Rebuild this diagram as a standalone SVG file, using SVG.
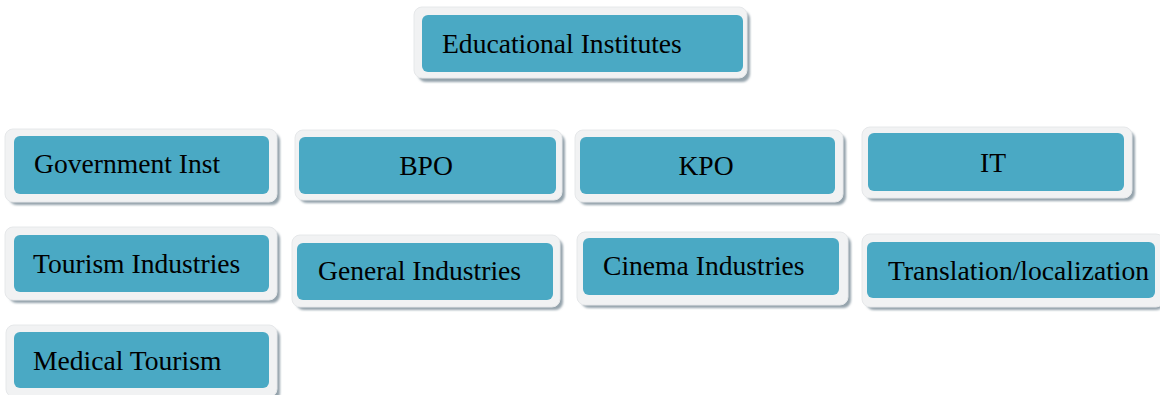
<svg xmlns="http://www.w3.org/2000/svg" width="1160" height="395" viewBox="0 0 1160 395">
<defs>
<filter id="blur" x="-5%" y="-10%" width="110%" height="130%"><feGaussianBlur stdDeviation="1"/></filter>
</defs>
<style>
.shadow{fill:#94a3ac;filter:url(#blur)}
.frame{fill:#f1f2f3;stroke:#e6e8ea;stroke-width:1}
.inner{fill:#4aa9c4}
.lbl{font-family:"Liberation Serif","Times New Roman",serif;font-size:27.6px;fill:#000}
</style>
<rect width="1160" height="395" fill="#ffffff"/>
<g id="connectors"></g>
<g id="n-edu">
<rect class="shadow" x="418" y="11" width="332" height="71" rx="8"/>
<rect class="frame" x="414" y="7" width="333" height="71" rx="8"/>
<rect class="inner" x="422" y="15" width="321" height="57" rx="6"/>
<text class="lbl" x="442" y="53">Educational Institutes</text>
</g>
<g id="n-gov">
<rect class="shadow" x="9" y="133" width="271" height="72" rx="8"/>
<rect class="frame" x="5" y="129" width="272" height="73" rx="8"/>
<rect class="inner" x="14" y="136" width="255" height="58" rx="6"/>
<text class="lbl" x="34" y="173">Government Inst</text>
</g>
<g id="n-bpo">
<rect class="shadow" x="299" y="134" width="266" height="69" rx="8"/>
<rect class="frame" x="295" y="130" width="267" height="70" rx="8"/>
<rect class="inner" x="299" y="137" width="257" height="57" rx="6"/>
<text class="lbl" x="426" y="175" text-anchor="middle">BPO</text>
</g>
<g id="n-kpo">
<rect class="shadow" x="579" y="134" width="267" height="71" rx="8"/>
<rect class="frame" x="575" y="130" width="268" height="72" rx="8"/>
<rect class="inner" x="580" y="137" width="255" height="57" rx="6"/>
<text class="lbl" x="706" y="175" text-anchor="middle">KPO</text>
</g>
<g id="n-it">
<rect class="shadow" x="866" y="131" width="269" height="70" rx="8"/>
<rect class="frame" x="862" y="127" width="270" height="71" rx="8"/>
<rect class="inner" x="868" y="133" width="256" height="58" rx="6"/>
<text class="lbl" x="993" y="172" text-anchor="middle">IT</text>
</g>
<g id="n-tourism">
<rect class="shadow" x="9" y="231" width="271" height="72" rx="8"/>
<rect class="frame" x="5" y="227" width="272" height="73" rx="8"/>
<rect class="inner" x="14" y="235" width="255" height="57" rx="6"/>
<text class="lbl" x="33" y="273">Tourism Industries</text>
</g>
<g id="n-general">
<rect class="shadow" x="296" y="239" width="267" height="71" rx="8"/>
<rect class="frame" x="292" y="235" width="268" height="72" rx="8"/>
<rect class="inner" x="297" y="243" width="256" height="57" rx="6"/>
<text class="lbl" x="318" y="280">General Industries</text>
</g>
<g id="n-cinema">
<rect class="shadow" x="581" y="236" width="270" height="72" rx="8"/>
<rect class="frame" x="577" y="232" width="271" height="73" rx="8"/>
<rect class="inner" x="583" y="238" width="256" height="57" rx="6"/>
<text class="lbl" x="603" y="275">Cinema Industries</text>
</g>
<g id="n-translation">
<rect class="shadow" x="866" y="238" width="298" height="72" rx="8"/>
<rect class="frame" x="862" y="234" width="302" height="73" rx="8"/>
<rect class="inner" x="867" y="242" width="288" height="56" rx="6"/>
<text class="lbl" x="888" y="280">Translation/localization</text>
</g>
<g id="n-medical">
<rect class="shadow" x="10" y="329" width="270" height="72" rx="8"/>
<rect class="frame" x="6" y="325" width="271" height="72" rx="8"/>
<rect class="inner" x="14" y="332" width="255" height="56" rx="6"/>
<text class="lbl" x="33" y="370">Medical Tourism</text>
</g>
</svg>
